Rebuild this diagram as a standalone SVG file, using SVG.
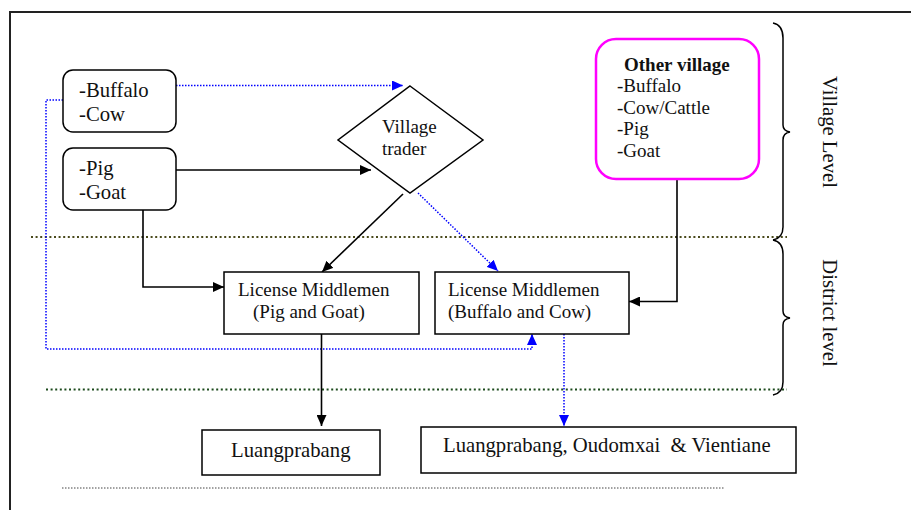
<svg xmlns="http://www.w3.org/2000/svg" width="911" height="510" viewBox="0 0 911 510">
  <defs>
    <marker id="arrowBlack" markerUnits="userSpaceOnUse" markerWidth="12" markerHeight="10" refX="11" refY="5" orient="auto">
      <path d="M0,0 L11,5 L0,10 z" fill="#000"/>
    </marker>
    <marker id="arrowBlue" markerUnits="userSpaceOnUse" markerWidth="12" markerHeight="10" refX="11" refY="5" orient="auto">
      <path d="M0,0 L11,5 L0,10 z" fill="#0000ff"/>
    </marker>
  </defs>
  <style>
    text { font-family: "Liberation Serif", "Times New Roman", serif; fill: #111; }
    .t20 { font-size: 20.7px; }
    .t19 { font-size: 19px; }
    .box { fill: #fff; stroke: #000; stroke-width: 1.5; }
    .solid { fill: none; stroke: #000; stroke-width: 1.6; }
    .blue { fill: none; stroke: #0000ff; stroke-width: 1.5; stroke-dasharray: 1.5 1.5; }
    .olive { fill: none; stroke: #4a4a1c; stroke-width: 2; stroke-dasharray: 2 2.6; }
    .green { fill: none; stroke: #1c4a1c; stroke-width: 2; stroke-dasharray: 2 2.6; }
    .brace { fill: none; stroke: #000; stroke-width: 1.5; }
  </style>

  <rect width="911" height="510" fill="#fff"/>
  <!-- outer frame -->
  <rect x="10" y="12" width="1000" height="600" fill="none" stroke="#222" stroke-width="2"/>

  <!-- level separators -->
  <line class="olive" x1="31" y1="237" x2="787" y2="237"/>
  <line class="green" x1="46" y1="389.5" x2="787" y2="389.5"/>
  <line x1="62" y1="488" x2="725" y2="488" stroke="#444" stroke-width="1" stroke-dasharray="1.5 1.5"/>

  <!-- level braces -->
  <path class="brace" d="M773,23 Q783,25 783,38 L783,125 Q783,131 790,132 Q783,133 783,140 L783,227 Q783,238 773,240"/>
  <path class="brace" d="M773,240 Q783,242 783,254 L783,311 Q783,317 790,318 Q783,319 783,325 L783,382 Q783,393 773,395"/>
  <text class="t20" transform="translate(823,132) rotate(90)" text-anchor="middle">Village Level</text>
  <text class="t20" transform="translate(823,313) rotate(90)" text-anchor="middle">District level</text>

  <!-- connectors -->
  <g id="connectors">
    <polyline class="blue" points="176,85.5 403,85.5" marker-end="url(#arrowBlue)"/>
    <polyline class="solid" points="176,170 371,170" marker-end="url(#arrowBlack)"/>
    <polyline class="solid" points="143,210 143,287 224,287" marker-end="url(#arrowBlack)"/>
    <polyline class="solid" points="403,194 322,272" marker-end="url(#arrowBlack)"/>
    <polyline class="blue" points="418,193 498,271" marker-end="url(#arrowBlue)"/>
    <polyline class="blue" points="63,100 46,100 46,349 532,349 532,334" marker-end="url(#arrowBlue)"/>
    <polyline class="solid" points="677,179 677,301.5 629,301.5" marker-end="url(#arrowBlack)"/>
    <polyline class="solid" points="321.5,334 321.5,426" marker-end="url(#arrowBlack)"/>
    <polyline class="blue" points="564,334 564,426" marker-end="url(#arrowBlue)"/>
  </g>

  <!-- source herds -->
  <g id="buffalo-cow">
    <rect class="box" x="63" y="70" width="113" height="62" rx="10"/>
    <text class="t20" x="79" y="97">-Buffalo</text>
    <text class="t20" x="79" y="121">-Cow</text>
  </g>
  <g id="pig-goat">
    <rect class="box" x="63" y="148" width="113" height="62" rx="10"/>
    <text class="t20" x="79" y="175">-Pig</text>
    <text class="t20" x="79" y="199">-Goat</text>
  </g>

  <g id="village-trader">
    <polygon class="box" points="410,86 483,140 410,193 338,140"/>
    <text class="t19" x="382" y="133">Village</text>
    <text class="t19" x="382" y="155">trader</text>
  </g>

  <g id="other-village">
    <rect x="596" y="39" width="163" height="140" rx="20" fill="#fff" stroke="#ff00ff" stroke-width="2.5"/>
    <text class="t19" x="624" y="71" font-weight="bold">Other village</text>
    <text class="t19" x="617" y="92">-Buffalo</text>
    <text class="t19" x="617" y="113.5">-Cow/Cattle</text>
    <text class="t19" x="617" y="135">-Pig</text>
    <text class="t19" x="617" y="157">-Goat</text>
  </g>

  <g id="middlemen-pig-goat">
    <rect class="box" x="224" y="272" width="195" height="62"/>
    <text class="t19" x="238" y="296">License Middlemen</text>
    <text class="t19" x="253" y="318">(Pig and Goat)</text>
  </g>

  <g id="middlemen-buffalo-cow">
    <rect class="box" x="435" y="272" width="194" height="62"/>
    <text class="t19" x="448" y="296">License Middlemen</text>
    <text class="t19" x="448" y="318">(Buffalo and Cow)</text>
  </g>

  <g id="luangprabang">
    <rect class="box" x="202" y="430" width="178" height="45"/>
    <text class="t20" x="231" y="457">Luangprabang</text>
  </g>

  <g id="provinces">
    <rect class="box" x="421" y="427" width="375" height="46"/>
    <text class="t20" x="443" y="452" xml:space="preserve">Luangprabang, Oudomxai  &amp; Vientiane</text>
  </g>
</svg>
